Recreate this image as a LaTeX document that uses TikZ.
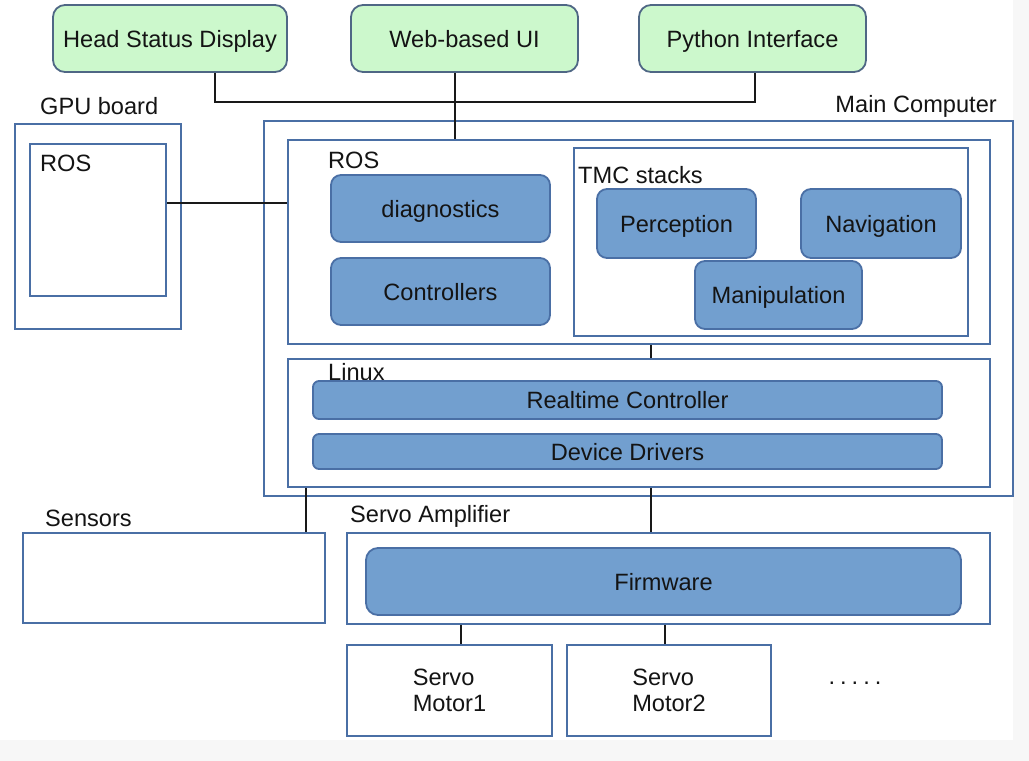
\documentclass[tikz,border=0pt]{standalone}
\usepackage{fontspec}
\setmainfont{Liberation Sans}
\definecolor{edge}{HTML}{4A6FA5}
\definecolor{bluefill}{HTML}{729FCF}
\definecolor{greenfill}{HTML}{CCF8CC}
\definecolor{gedge}{HTML}{4F6785}
\definecolor{margin}{HTML}{F7F7F7}
\begin{document}
\begin{tikzpicture}[x=1pt,y=-1pt,
  every node/.style={font=\fontsize{23.6}{26}\selectfont, text=black!92},
  frame/.style={draw=edge, line width=1.8pt, fill=white, inner sep=0pt},
  bluebox/.style={draw=edge, line width=1.8pt, fill=bluefill, rounded corners=10pt, inner sep=0pt, text height=17pt, text depth=0pt},
  greenbox/.style={draw=gedge, line width=1.8pt, fill=greenfill, rounded corners=12pt, inner sep=0pt, text height=17pt, text depth=0pt},
  lbl/.style={anchor=west, inner sep=0pt},
  wire/.style={draw=black!90, line width=1.8pt}]
\fill[margin] (0,0) rectangle (1029,761);
\fill[white] (0,0) rectangle (1013,740);
\useasboundingbox (0,0) rectangle (1029,761);
% top interfaces
\node[greenbox, minimum width=234pt, minimum height=67pt] (hsd) at (170,38.5) {Head Status Display};
\node[greenbox, minimum width=227pt, minimum height=67pt] (web) at (464.5,38.5) {Web-based UI};
\node[greenbox, minimum width=227pt, minimum height=67pt] (py) at (752.5,38.5) {Python Interface};
% GPU board
\node[lbl] (gpulbl) at (40,106) {GPU board};
\node[frame, minimum width=166pt, minimum height=205pt] (gpu) at (98,226.5) {};
\node[frame, minimum width=136pt, minimum height=152pt] (gros) at (98,220) {};
\node[lbl] (groslbl) at (40,163) {ROS};
% Main computer
\node[anchor=east, inner sep=0pt] (mclbl) at (997,106) {Main Computer};
\node[frame, minimum width=749pt, minimum height=375pt] (mc) at (638.5,308.5) {};
\node[frame, minimum width=702pt, minimum height=204pt] (rosm) at (639,242) {};
\node[lbl] (roslbl) at (328,160) {ROS};
\node[bluebox, minimum width=219pt, minimum height=67pt] (diag) at (440.5,208.5) {diagnostics};
\node[bluebox, minimum width=219pt, minimum height=67pt] (ctrl) at (440.5,291.5) {Controllers};
\node[frame, minimum width=394pt, minimum height=188pt] (tmc) at (771,242) {};
\node[lbl] (tmclbl) at (578,175) {TMC stacks};
\node[bluebox, minimum width=159pt, minimum height=69pt] (perc) at (676.5,223.5) {Perception};
\node[bluebox, minimum width=160pt, minimum height=69pt] (nav) at (881,223.5) {Navigation};
\node[bluebox, minimum width=167pt, minimum height=68pt] (manip) at (778.5,295) {Manipulation};
\node[frame, minimum width=702pt, minimum height=128pt] (linux) at (639,423) {};
\node[lbl] (linuxlbl) at (328,372) {Linux};
\node[bluebox, rounded corners=6pt, minimum width=629pt, minimum height=38pt] (rt) at (627.5,400) {Realtime Controller};
\node[bluebox, rounded corners=6pt, minimum width=629pt, minimum height=35pt] (dd) at (627.5,451.5) {Device Drivers};
% lower part
\node[lbl] (senslbl) at (45,518) {Sensors};
\node[frame, minimum width=302pt, minimum height=90pt] (sens) at (174,578) {};
\node[lbl] (amplbl) at (350,516) {Servo Amplifier};
\node[frame, minimum width=643pt, minimum height=91pt] (amp) at (668.5,578.5) {};
\node[bluebox, rounded corners=12pt, minimum width=595pt, minimum height=67pt] (fw) at (663.5,581.5) {Firmware};
\node[frame, minimum width=205pt, minimum height=91pt, align=left] (m1) at (449.5,690.5) {Servo\\Motor1};
\node[frame, minimum width=204pt, minimum height=91pt, align=left] (m2) at (669,690.5) {Servo\\Motor2};
\node[inner sep=0pt] (dots) at (855,683) {.\hspace{5pt}.\hspace{5pt}.\hspace{5pt}.\hspace{5pt}.};
% connectors
\coordinate (j1) at (215,102);
\coordinate (j2) at (755,102);
\coordinate (j3) at (455,102);
\coordinate (g) at (0,203);
\coordinate (c1) at (651,0);
\coordinate (c2) at (306,0);
\coordinate (c3) at (461,0);
\coordinate (c4) at (665,0);
\draw[wire] (hsd.south -| j1) -- (j1) -- (j2) -- (py.south -| j2);
\draw[wire] (web.south -| j3) -- (rosm.north -| j3);
\draw[wire] (gros.east |- g) -- (rosm.west |- g);
\draw[wire] (rosm.south -| c1) -- (linux.north -| c1);
\draw[wire] (linux.south -| c2) -- (sens.north -| c2);
\draw[wire] (linux.south -| c1) -- (amp.north -| c1);
\draw[wire] (amp.south -| c3) -- (m1.north -| c3);
\draw[wire] (amp.south -| c4) -- (m2.north -| c4);
\end{tikzpicture}
\end{document}
